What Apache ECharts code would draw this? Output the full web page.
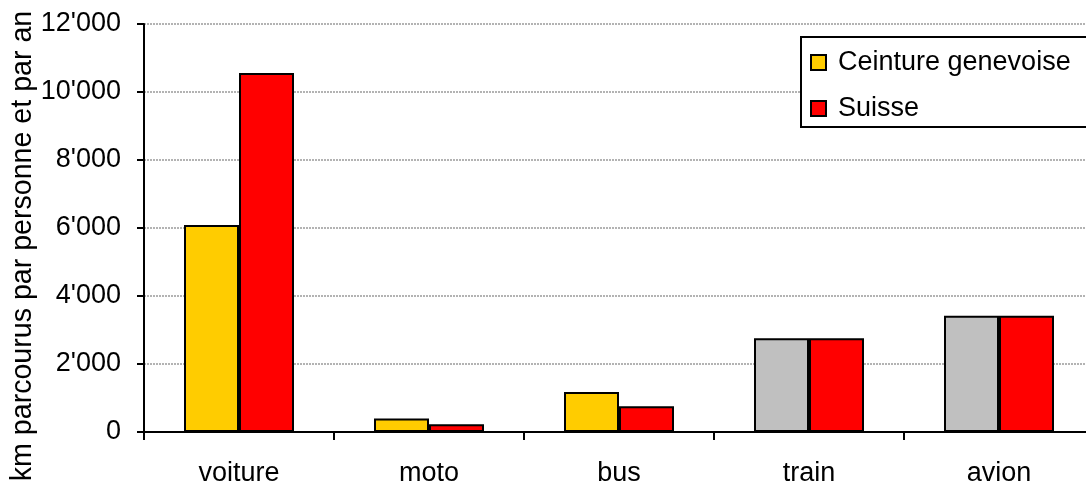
<!DOCTYPE html>
<html>
<head>
<meta charset="utf-8">
<script src="https://cdn.jsdelivr.net/npm/echarts@6/dist/echarts.min.js"></script>
<style>
  html, body { margin: 0; padding: 0; background: #fff; }
  #chart { width: 1086px; height: 482px; }
</style>
</head>
<body>
<div id="chart"></div>
<script>
// Distance travelled per person per year, by mode of transport
const categories = ['voiture', 'moto', 'bus', 'train', 'avion'];
const ceinture = [6090, 400, 1180, 2760, 3420];
const suisse = [10560, 225, 757, 2760, 3420];
const yTicks = [0, 2000, 4000, 6000, 8000, 10000, 12000];

// Modes where the regional value is taken from the national figure (shown in grey)
const nationalOnly = ['train', 'avion'];

const FONT = '"Liberation Sans", Arial, sans-serif';
const YELLOW = '#FFCC00';
const RED = '#FF0000';
const GREY = '#C0C0C0';
const fmt = v => String(v).replace(/\B(?=(\d{3})+(?!\d))/g, "'");

const chart = echarts.init(document.getElementById('chart'), null, { renderer: 'canvas' });

chart.setOption({
  animation: false,
  backgroundColor: '#fff',
  textStyle: { fontFamily: FONT },
  // plot area runs slightly past the right edge of the canvas
  grid: { left: 144, width: 950, top: 24, bottom: 50, containLabel: false, outerBoundsMode: 'none' },
  legend: {
    orient: 'vertical',
    left: 801,
    top: 37,
    padding: [12, 60, 5, 9],
    itemGap: 19,
    itemWidth: 15,
    itemHeight: 15,
    borderColor: '#000',
    borderWidth: 2,
    backgroundColor: '#fff',
    textStyle: { fontFamily: FONT, fontSize: 27, color: '#000', padding: [0, 0, 0, 7] },
    data: [
      { name: 'Ceinture genevoise', icon: 'rect', itemStyle: { color: YELLOW, borderColor: '#000', borderWidth: 2 } },
      { name: 'Suisse', icon: 'rect', itemStyle: { color: RED, borderColor: '#000', borderWidth: 2 } }
    ]
  },
  xAxis: {
    type: 'category',
    data: categories,
    axisLine: { lineStyle: { color: '#000', width: 2 } },
    axisTick: { show: true, length: 8, lineStyle: { color: '#000', width: 2 } },
    axisLabel: { color: '#000', fontFamily: FONT, fontSize: 27, margin: 28 }
  },
  yAxis: {
    type: 'value',
    min: yTicks[0],
    max: yTicks[yTicks.length - 1],
    interval: yTicks[1] - yTicks[0],
    axisLine: { show: true, lineStyle: { color: '#000', width: 2 } },
    axisTick: { show: true, length: 7, lineStyle: { color: '#000', width: 2 } },
    axisLabel: { color: '#000', fontFamily: FONT, fontSize: 27, margin: 23, formatter: fmt },
    splitLine: { show: true, lineStyle: { color: '#9a9a9a', width: 1.5, type: [2, 1] } }
  },
  graphic: [{
    type: 'text',
    x: 23,
    y: 246,
    rotation: Math.PI / 2,
    style: {
      text: 'km parcourus par personne et par an',
      fontFamily: FONT,
      fontSize: 28.6,
      fill: '#000',
      align: 'center',
      verticalAlign: 'middle'
    }
  }],
  series: [
    {
      name: 'Ceinture genevoise',
      type: 'bar',
      barWidth: 55,
      barGap: '0%',
      data: ceinture,
      itemStyle: {
        color: p => nationalOnly.includes(p.name) ? GREY : YELLOW,
        borderColor: '#000',
        borderWidth: 2
      }
    },
    {
      name: 'Suisse',
      type: 'bar',
      barWidth: 55,
      barGap: '0%',
      data: suisse,
      itemStyle: { color: RED, borderColor: '#000', borderWidth: 2 }
    }
  ]
});
</script>
</body>
</html>
